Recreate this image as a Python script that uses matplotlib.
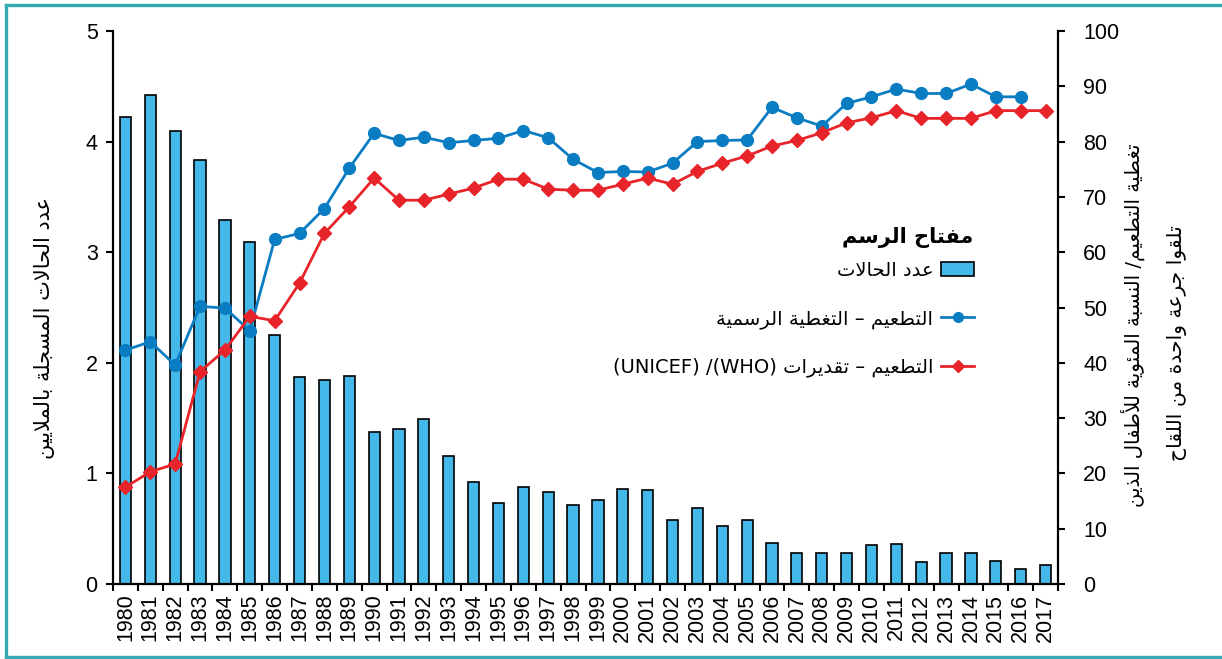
import re
import matplotlib
matplotlib.use("Agg")
import matplotlib.pyplot as plt
from matplotlib.patches import Patch
from matplotlib.lines import Line2D

# ---------------------------------------------------------------- data
years = list(range(1980, 2018))

cases_millions = [4.22, 4.42, 4.10, 3.83, 3.29, 3.09, 2.25, 1.87, 1.84, 1.88,
                  1.37, 1.40, 1.49, 1.16, 0.92, 0.73, 0.88, 0.83, 0.71, 0.76,
                  0.86, 0.85, 0.58, 0.69, 0.52, 0.58, 0.37, 0.28, 0.28, 0.28,
                  0.35, 0.36, 0.20, 0.28, 0.28, 0.21, 0.14, 0.17]

official_coverage = [42.3, 43.8, 39.6, 50.2, 49.9, 45.8, 62.3, 63.4, 67.9, 75.2,
                     81.5, 80.2, 80.8, 79.8, 80.2, 80.6, 82.0, 80.7, 76.8, 74.4,
                     74.6, 74.5, 76.1, 80.0, 80.2, 80.3, 86.2, 84.3, 82.8, 86.9,
                     88.1, 89.5, 88.7, 88.7, 90.4, 88.1, 88.1]   # up to 2016

estimated_coverage = [17.5, 20.3, 21.7, 38.4, 42.3, 48.4, 47.6, 54.4, 63.4, 68.2,
                      73.4, 69.4, 69.4, 70.5, 71.6, 73.2, 73.2, 71.4, 71.2, 71.2,
                      72.3, 73.4, 72.3, 74.6, 76.1, 77.4, 79.2, 80.2, 81.6, 83.4,
                      84.3, 85.6, 84.2, 84.2, 84.2, 85.6, 85.6, 85.6]

left_ticks = [0, 1, 2, 3, 4, 5]
right_ticks = [0, 10, 20, 30, 40, 50, 60, 70, 80, 90, 100]

label_left = "عدد الحالات المسجلة بالملايين"
label_right_1 = "تغطية التطعيم/ النسبة المئوية للأطفال الذين"
label_right_2 = "تلقوا جرعة واحدة من اللقاح"
legend_title = "مفتاح الرسم"
legend_cases = "عدد الحالات"
legend_official = "التطعيم – التغطية الرسمية"
legend_estimate = "التطعيم – تقديرات (WHO)/ (UNICEF)"

# ---------------------------------------------------------------- Arabic shaping
# (isolated, final, initial, medial) presentation forms
FORMS = {
    'ا': (0xFE8D, 0xFE8E, None, None), 'أ': (0xFE83, 0xFE84, None, None),
    'ب': (0xFE8F, 0xFE90, 0xFE91, 0xFE92), 'ة': (0xFE93, 0xFE94, None, None),
    'ت': (0xFE95, 0xFE96, 0xFE97, 0xFE98), 'ج': (0xFE9D, 0xFE9E, 0xFE9F, 0xFEA0),
    'ح': (0xFEA1, 0xFEA2, 0xFEA3, 0xFEA4), 'د': (0xFEA9, 0xFEAA, None, None),
    'ذ': (0xFEAB, 0xFEAC, None, None), 'ر': (0xFEAD, 0xFEAE, None, None),
    'س': (0xFEB1, 0xFEB2, 0xFEB3, 0xFEB4), 'ط': (0xFEC1, 0xFEC2, 0xFEC3, 0xFEC4),
    'ع': (0xFEC9, 0xFECA, 0xFECB, 0xFECC), 'غ': (0xFECD, 0xFECE, 0xFECF, 0xFED0),
    'ف': (0xFED1, 0xFED2, 0xFED3, 0xFED4), 'ق': (0xFED5, 0xFED6, 0xFED7, 0xFED8),
    'ل': (0xFEDD, 0xFEDE, 0xFEDF, 0xFEE0), 'م': (0xFEE1, 0xFEE2, 0xFEE3, 0xFEE4),
    'ن': (0xFEE5, 0xFEE6, 0xFEE7, 0xFEE8), 'و': (0xFEED, 0xFEEE, None, None),
    'ي': (0xFEF1, 0xFEF2, 0xFEF3, 0xFEF4), 'ئ': (0xFE89, 0xFE8A, 0xFE8B, 0xFE8C),
    'لا': (0xFEFB, 0xFEFC, None, None), 'لأ': (0xFEF7, 0xFEF8, None, None),
}


def shape(text):
    units, i = [], 0
    while i < len(text):
        if text[i] == 'ل' and i + 1 < len(text) and text[i + 1] in 'اأ':
            units.append(text[i:i + 2]); i += 2
        else:
            units.append(text[i]); i += 1
    out = []
    for k, u in enumerate(units):
        if u not in FORMS:
            out.append(u)
            continue
        f = FORMS[u]
        prev = units[k - 1] if k > 0 else None
        nxt = units[k + 1] if k + 1 < len(units) else None
        jp = prev in FORMS and FORMS[prev][2] is not None
        jn = f[2] is not None and nxt in FORMS
        if jp and jn:
            code = f[3]
        elif jp:
            code = f[1]
        elif jn:
            code = f[2]
        else:
            code = f[0]
        out.append(chr(code))
    # visual order: reverse, mirror brackets, keep Latin runs left-to-right
    vis = ''.join(reversed(out))
    vis = vis.translate(str.maketrans('()', ')('))
    vis = re.sub(r'[A-Za-z0-9]+', lambda m: m.group(0)[::-1], vis)
    return vis


AR = ['DejaVu Sans']
NUM = ['Liberation Sans', 'DejaVu Sans']

# ---------------------------------------------------------------- figure
W, H = 1222, 659
fig = plt.figure(figsize=(W / 100, H / 100), dpi=100)
ax = fig.add_axes([113 / W, 1 - 584 / H, (1058 - 113) / W, (584 - 31) / H])
ax2 = ax.twinx()

bar_col = '#43B8E9'
blue = '#0A7DC2'
red = '#E8242B'

x = list(range(len(years)))
ax.bar(x, cases_millions, width=0.45, color=bar_col, edgecolor='black',
       linewidth=1.2, zorder=2)

ax2.plot(x[:len(official_coverage)], official_coverage, color=blue, lw=2.0,
         marker='o', ms=8.5, zorder=3)
ax2.plot(x, estimated_coverage, color=red, lw=2.0, marker='D', ms=7.5,
         zorder=4)

ax.set_xlim(-0.5, len(years) - 0.5)
ax.set_ylim(0, 5)
ax2.set_ylim(0, 100)

ax.set_yticks(left_ticks)
ax.set_yticklabels([str(v) for v in left_ticks], family=NUM, fontsize=15.5)
ax2.set_yticks(right_ticks)
ax2.set_yticklabels([str(v) for v in right_ticks], family=NUM, fontsize=15.5)

ax.set_xticks(x)
ax.set_xticklabels([str(y) for y in years], rotation=90, family=NUM,
                   fontsize=15.5)
ax.set_xticks([v + 0.5 for v in x[:-1]] + [-0.5, len(years) - 0.5], minor=True)
ax.tick_params(axis='x', which='major', length=0, pad=7)
ax.tick_params(axis='x', which='minor', length=5, width=1.5, direction='out')
ax.tick_params(axis='y', length=5, width=1.5, pad=6)
ax2.tick_params(axis='y', length=5, width=1.5, pad=13)

for a in (ax, ax2):
    a.spines['top'].set_visible(False)
    for s in ('left', 'right', 'bottom'):
        a.spines[s].set_linewidth(1.6)
ax2.spines['left'].set_visible(False)
ax2.spines['bottom'].set_visible(False)
ax.spines['right'].set_visible(False)
ax2.patch.set_visible(False)

# axis titles
fig.text(45 / W, 1 - 328 / H, shape(label_left), rotation=90, ha='center',
         va='center', family=AR, fontsize=15)
fig.text(1133 / W, 1 - 325 / H, shape(label_right_1), rotation=90,
         ha='center', va='center', family=AR, fontsize=14.2)
fig.text(1177 / W, 1 - 343 / H, shape(label_right_2), rotation=90,
         ha='center', va='center', family=AR, fontsize=14.6)

# legend
fig.text(973 / W, 1 - 238 / H, shape(legend_title), ha='right', va='center',
         family=AR, fontsize=15, fontweight='bold')
handles = [
    Patch(facecolor=bar_col, edgecolor='black', linewidth=1.2),
    Line2D([], [], color=blue, lw=2.0, marker='o', ms=7),
    Line2D([], [], color=red, lw=2.0, marker='D', ms=6.5),
]
labels = [shape(legend_cases), shape(legend_official), shape(legend_estimate)]
leg = fig.legend(handles, labels, loc='upper right',
                 bbox_to_anchor=(982 / W, 1 - 253 / H), frameon=False,
                 borderaxespad=0, markerfirst=False, alignment='right',
                 labelspacing=1.5, handlelength=1.7, handletextpad=0.4,
                 prop={'family': AR, 'size': 14})

# frame around the figure
border = '#33AAB4'
fig.add_artist(Line2D([6 / W, 1.0], [1 - 5 / H, 1 - 5 / H], color=border,
                      lw=2.4, transform=fig.transFigure))
fig.add_artist(Line2D([6 / W, 6 / W], [1 - 5 / H, 1 - 657 / H], color=border,
                      lw=2.4, transform=fig.transFigure))
fig.add_artist(Line2D([6 / W, 1.0], [1 - 657 / H, 1 - 657 / H], color=border,
                      lw=2.4, transform=fig.transFigure))

fig.savefig('out.png', dpi=100)
